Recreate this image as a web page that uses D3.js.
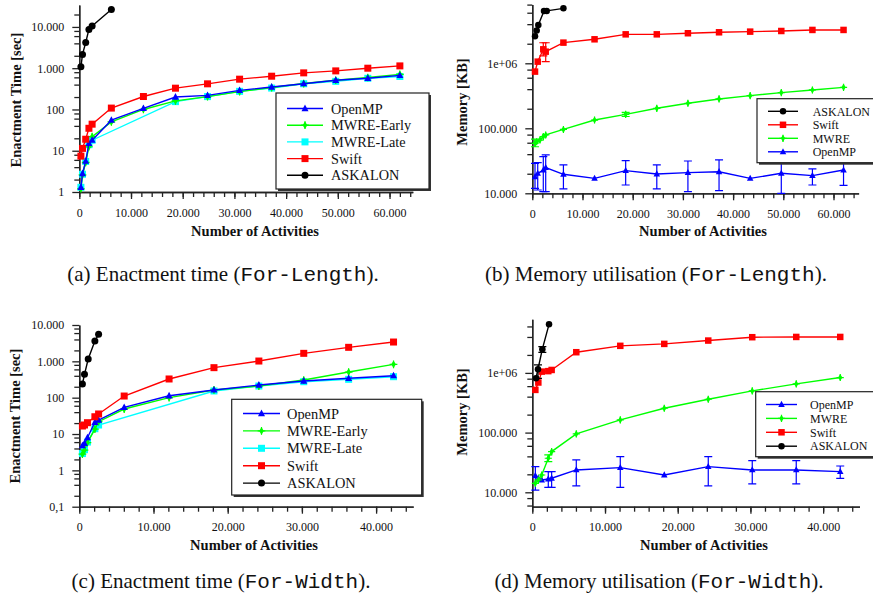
<!DOCTYPE html>
<meta charset="utf-8">
<html>
<head>
<title>Enactment time and memory</title>
<script src="https://d3js.org/d3.v7.min.js"></script>
<style>
  body { margin: 0; background: #fff; }
  svg text { font-family: "Liberation Serif", "Times New Roman", serif; fill: #111; }
  .mono { font-family: "Liberation Mono", "Courier New", monospace; }
</style>
</head>
<body>
<svg id="chart" width="873" height="605"></svg>
<script>
// ---- data ----
// (a) enactment time, For-Length
const xLen = [310, 620, 1240, 1860, 2480, 6200, 12400, 18600, 24800, 31000, 37200, 43400, 49600, 55800, 62000];
const timeLenOpenMP = [1.3, 2.8, 5.6, 15, 18, 55, 106, 200, 220, 290, 350, 420, 510, 570, 670];
const timeLenEarly = [1.2, 2.6, 5.2, 12.5, 22, 50, 100, 162, 205, 270, 340, 425, 510, 595, 710];
const xLenLate = [310, 620, 1240, 1860, 2480, 18600, 24800, 31000, 37200, 43400, 49600, 55800, 62000];
const timeLenLate = [1.3, 2.7, 5.5, 14, 18, 155, 205, 275, 330, 420, 480, 570, 630];
const timeLenSwift = [7.4, 11.4, 19, 35, 44, 108, 206, 328, 418, 542, 640, 771, 861, 1000, 1137];
const xLenAskalon = [310, 620, 1240, 1860, 2480, 6200];
const timeLenAskalon = [1080, 2160, 4200, 8700, 10600, 26500];

// (b) memory, For-Length
const xMemLen = [540, 1080, 2190, 2670, 6200, 12400, 18600, 24800, 31000, 37200, 43400, 49600, 55800, 62000];
const memLenOpenMP = [18000, 20300, 22800, 24800, 19600, 17000, 22300, 19800, 20800, 21500, 17000, 20300, 18700, 22800];
const memLenOpenMPLo = [11900, 11250, 10600, 10600, 11660, null, 13430, 11660, 10600, 11000, null, 10000, 13430, 13280];
const memLenOpenMPHi = [28900, 29700, 36600, 38900, 27300, null, 31800, 27300, 31400, 32600, null, 30700, 23700, 31800];
const memLenSwift = [745000, 1060000, 1640000, 1510000, 2080000, 2340000, 2790000, 2790000, 2900000, 3000000, 3070000, 3140000, 3260000, 3260000];
const memLenSwiftLo = [null, null, 1300000, 1060000, null, null, null, null, null, null, null, null, null, null];
const memLenSwiftHi = [null, null, 2070000, 2070000, null, null, null, null, null, null, null, null, null, null];
const xMemLenMwre = [540, 870, 1530, 2190, 2670, 6200, 12400, 18600, 24800, 31000, 37200, 43400, 49600, 55800, 62000];
const memLenMwre = [58800, 62000, 66000, 74500, 79000, 96000, 134000, 164000, 203000, 243000, 283000, 318000, 354000, 389000, 427000];
const memLenMwreLo = [52000, null, null, null, null, null, null, 152000, null, null, null, null, null, null, null];
const memLenMwreHi = [68000, null, null, null, null, null, null, 176000, null, null, null, null, null, null, null];
const xMemLenAskalon = [540, 880, 1200, 2330, 2870, 6200];
const memLenAskalon = [2600000, 3200000, 3900000, 6400000, 6400000, 7000000];

// (c) enactment time, For-Width
const xWid = [420, 700, 1100, 2100, 2600, 6050, 12100, 18150, 24200, 30250, 36300, 42350];
const timeWidOpenMP = [4.8, 5.5, 7.9, 21, 24, 54, 113, 163, 223, 287, 341, 403];
const timeWidEarly = [2.8, 3.6, 5.8, 13.7, 21.8, 48.7, 100, 163, 209, 306, 508, 827];
const xWidLate = [420, 700, 1100, 2100, 2600, 18150, 24200, 30250, 36300, 42350];
const timeWidLate = [2.9, 3.7, 6, 14, 17.7, 153, 209, 275, 320, 378];
const timeWidSwift = [16.6, 17.7, 20.5, 29.9, 35.6, 111, 327, 670, 1020, 1660, 2430, 3400];
const xWidAskalon = [420, 700, 1200, 2100, 2600];
const timeWidAskalon = [238, 438, 1160, 3630, 5540];

// (d) memory, For-Width
const xMemWid = [420, 830, 1300, 2200, 2660, 6050, 12100, 18150, 24200, 30250, 36300, 42350];
const memWidOpenMP = [19000, 17200, 16100, 16700, 17200, 23700, 25900, 19500, 26900, 23700, 23700, 22200];
const memWidOpenMPLo = [10900, null, null, 12130, 12130, 12770, 12130, null, 12770, 13800, 13800, 17160];
const memWidOpenMPHi = [26900, null, null, 22200, 22200, 34800, 39600, null, 39600, 33900, 33900, 27600];
const memWidMwre = [14150, 16100, 19500, 37200, 48100, 95100, 163000, 256000, 362000, 499000, 654000, 836000];
const memWidMwreLo = [null, null, null, 32600, null, null, null, null, null, null, null, null];
const memWidMwreHi = [null, null, null, 42300, null, null, null, null, null, null, null, null];
const memWidSwift = [519000, 690000, 1050000, 1070000, 1120000, 2220000, 2840000, 3060000, 3480000, 3960000, 4000000, 4000000];
const xMemWidAskalon = [510, 780, 1380, 2300];
const memWidAskalon = [815000, 1150000, 2500000, 6500000];
const memWidAskalonLo = [null, 810000, 2200000, null];
const memWidAskalonHi = [null, 1360000, 2760000, null];

// ticks
const xTicksLen = [0, 10000, 20000, 30000, 40000, 50000, 60000];
const xLabelsLen = ["0", "10.000", "20.000", "30.000", "40.000", "50.000", "60.000"];
const xTicksWid = [0, 10000, 20000, 30000, 40000];
const xLabelsWid = ["0", "10.000", "20.000", "30.000", "40.000"];
const yTicksTimeLen = [1, 10, 100, 1000, 10000];
const yLabelsTimeLen = ["1", "10", "100", "1.000", "10.000"];
const yTicksTimeWid = [0.1, 1, 10, 100, 1000, 10000];
const yLabelsTimeWid = ["0,1", "1", "10", "100", "1.000", "10.000"];
const yTicksMem = [10000, 100000, 1000000];
const yLabelsMem = ["10.000", "100.000", "1e+06"];

const colors = { OpenMP: "#0000ff", MWRE: "#00ff00", "MWRE-Early": "#00ff00", "MWRE-Late": "#00ffff", Swift: "#ff0000", ASKALON: "#000000" };
const shapes = { OpenMP: "triangle", MWRE: "diamond", "MWRE-Early": "diamond", "MWRE-Late": "square", Swift: "square", ASKALON: "circle" };

const svg = d3.select("#chart");

function marker(g, shape, cx, cy, color, s) {
  if (shape === "square") {
    g.append("rect").attr("x", cx - s / 2).attr("y", cy - s / 2).attr("width", s).attr("height", s).attr("fill", color);
  } else if (shape === "circle") {
    g.append("circle").attr("cx", cx).attr("cy", cy).attr("r", s / 2).attr("fill", color);
  } else if (shape === "triangle") {
    const h = s * 0.9;
    g.append("path").attr("d", `M${cx},${cy - h / 1.6}L${cx + s / 2},${cy + h / 2.4}L${cx - s / 2},${cy + h / 2.4}Z`).attr("fill", color);
  } else {
    const r = s * 0.55;
    g.append("path").attr("d", `M${cx},${cy - r}L${cx + r * 0.6},${cy}L${cx},${cy + r}L${cx - r * 0.6},${cy}Z`).attr("fill", color);
    g.append("path").attr("d", `M${cx - r},${cy}H${cx + r}M${cx},${cy - r}V${cy + r}`).attr("stroke", color).attr("stroke-width", 1.2);
  }
}

function drawPanel(p) {
  const g = svg.append("g");
  const x = d3.scaleLinear().domain(p.xDomain).range(p.xRange);
  const y = d3.scaleLog().domain(p.yDomain).range(p.yRange);
  const y0 = p.yRange[0], x0 = p.xRange[0];

  // x axis
  const xMinor = d3.range(0, p.xDomain[1] + 1, 2000);
  g.append("g").attr("transform", `translate(0,${y0})`)
    .call(d3.axisBottom(x).tickValues(xMinor).tickSize(5).tickSizeOuter(0).tickFormat(""));
  const xa = g.append("g").attr("transform", `translate(0,${y0})`)
    .call(d3.axisBottom(x).tickValues(p.xTicks).tickSize(7).tickSizeOuter(0).tickPadding(9)
      .tickFormat((d, i) => p.xLabels[i]));
  xa.selectAll("text").attr("font-family", "Liberation Serif").attr("font-size", 12);

  // y axis (log, minor ticks at 2,4,6,8)
  const yMinor = [];
  const lo = Math.floor(Math.log10(p.yDomain[0])), hi = Math.ceil(Math.log10(p.yDomain[1]));
  for (let e = lo; e <= hi; e++) [2, 4, 6, 8].forEach(m => {
    const v = m * Math.pow(10, e);
    if (v >= p.yDomain[0] && v <= p.yDomain[1]) yMinor.push(v);
  });
  g.append("g").attr("transform", `translate(${x0},0)`)
    .call(d3.axisLeft(y).tickValues(yMinor).tickSize(5).tickSizeOuter(0).tickFormat(""));
  const ya = g.append("g").attr("transform", `translate(${x0},0)`)
    .call(d3.axisLeft(y).tickValues(p.yTicks).tickSize(7).tickSizeOuter(0).tickPadding(8)
      .tickFormat((d, i) => p.yLabels[i]));
  ya.selectAll("text").attr("font-family", "Liberation Serif").attr("font-size", 12);
  g.selectAll(".domain, .tick line").attr("stroke", "#222").attr("stroke-width", 1.3);

  // axis titles
  g.append("text").attr("x", p.xTitle[0]).attr("y", p.xTitle[1]).attr("text-anchor", "middle")
    .attr("font-weight", "bold").attr("font-size", 14.5).text("Number of Activities");
  g.append("text").attr("transform", `translate(${p.yTitle[0]},${p.yTitle[1]}) rotate(-90)`)
    .attr("text-anchor", "middle").attr("font-weight", "bold").attr("font-size", 14.5).text(p.yTitleText);

  // series
  const plot = g.append("g");
  p.drawOrder.forEach(s => {
    const pts = s.x.map((v, i) => ({ x: v, y: s.y[i], lo: s.lo ? s.lo[i] : null, hi: s.hi ? s.hi[i] : null }));
    const c = colors[s.name];
    plot.append("path").datum(pts)
      .attr("d", d3.line().x(d => x(d.x)).y(d => y(d.y)))
      .attr("fill", "none").attr("stroke", c).attr("stroke-width", 1.4);
    pts.forEach(d => {
      if (d.lo != null) {
        const px = x(d.x), yl = Math.min(y(d.lo), y0 + 1), yh = y(d.hi);
        plot.append("path").attr("d", `M${px},${yl}V${yh}M${px - 4},${yl}H${px + 4}M${px - 4},${yh}H${px + 4}`)
          .attr("stroke", c).attr("stroke-width", 1.2).attr("fill", "none");
      }
    });
    pts.forEach(d => marker(plot, shapes[s.name], x(d.x), y(d.y), c, p.markSize));
  });

  // legend
  const L = p.legend;
  const lg = g.append("g");
  lg.append("rect").attr("x", L.x + 2).attr("y", L.y + 2).attr("width", L.w).attr("height", L.h).attr("fill", "#333");
  lg.append("rect").attr("x", L.x).attr("y", L.y).attr("width", L.w).attr("height", L.h)
    .attr("fill", "#fff").attr("stroke", "#222").attr("stroke-width", 1.2);
  p.legendOrder.forEach((name, i) => {
    const yy = L.y0 + i * L.dy, c = colors[name];
    lg.append("line").attr("x1", L.l1).attr("x2", L.l2).attr("y1", yy).attr("y2", yy)
      .attr("stroke", c).attr("stroke-width", 1.4);
    marker(lg, shapes[name], (L.l1 + L.l2) / 2, yy, c, p.markSize);
    lg.append("text").attr("x", L.tx).attr("y", yy).attr("dy", "0.35em").attr("font-size", L.fs).text(name);
  });

  // caption
  const cap = svg.append("text").attr("x", p.caption.x).attr("y", p.caption.y)
    .attr("text-anchor", "middle").attr("font-size", 21);
  cap.append("tspan").text(p.caption.pre);
  cap.append("tspan").attr("class", "mono").text(p.caption.mono);
  cap.append("tspan").text(").");
}

drawPanel({
  xDomain: [0, 64500], xRange: [79.3, 412.8], yDomain: [1, 34000], yRange: [192, 5],
  xTicks: xTicksLen, xLabels: xLabelsLen, yTicks: yTicksTimeLen, yLabels: yLabelsTimeLen,
  xTitle: [255, 236], yTitle: [21, 100], yTitleText: "Enactment Time [sec]", markSize: 7,
  drawOrder: [
    { name: "MWRE-Late", x: xLenLate, y: timeLenLate },
    { name: "MWRE-Early", x: xLen, y: timeLenEarly },
    { name: "OpenMP", x: xLen, y: timeLenOpenMP },
    { name: "Swift", x: xLen, y: timeLenSwift },
    { name: "ASKALON", x: xLenAskalon, y: timeLenAskalon }
  ],
  legendOrder: ["OpenMP", "MWRE-Early", "MWRE-Late", "Swift", "ASKALON"],
  legend: { x: 276, y: 93, w: 153, h: 96, y0: 108.5, dy: 16.7, l1: 287, l2: 323, tx: 331, fs: 14.3 },
  caption: { x: 223, y: 281, pre: "(a) Enactment time (", mono: "For-Length" }
});

drawPanel({
  xDomain: [0, 65000], xRange: [532.3, 858.6], yDomain: [10000, 8000000], yRange: [193.3, 4.6],
  xTicks: xTicksLen, xLabels: xLabelsLen, yTicks: yTicksMem, yLabels: yLabelsMem,
  xTitle: [703, 236], yTitle: [467, 102], yTitleText: "Memory [KB]", markSize: 6.5,
  drawOrder: [
    { name: "OpenMP", x: xMemLen, y: memLenOpenMP, lo: memLenOpenMPLo, hi: memLenOpenMPHi },
    { name: "MWRE", x: xMemLenMwre, y: memLenMwre, lo: memLenMwreLo, hi: memLenMwreHi },
    { name: "Swift", x: xMemLen, y: memLenSwift, lo: memLenSwiftLo, hi: memLenSwiftHi },
    { name: "ASKALON", x: xMemLenAskalon, y: memLenAskalon }
  ],
  legendOrder: ["ASKALON", "Swift", "MWRE", "OpenMP"],
  legend: { x: 757, y: 98.7, w: 125, h: 64, y0: 111.3, dy: 13.5, l1: 768, l2: 798, tx: 812.7, fs: 12 },
  caption: { x: 656, y: 281, pre: "(b) Memory utilisation (", mono: "For-Length" }
});

drawPanel({
  xDomain: [0, 45000], xRange: [79.3, 413.2], yDomain: [0.1, 10000], yRange: [506.7, 325],
  xTicks: xTicksWid, xLabels: xLabelsWid, yTicks: yTicksTimeWid, yLabels: yLabelsTimeWid,
  xTitle: [254, 550], yTitle: [20, 416], yTitleText: "Enactment Time [sec]", markSize: 7,
  drawOrder: [
    { name: "MWRE-Late", x: xWidLate, y: timeWidLate },
    { name: "MWRE-Early", x: xWid, y: timeWidEarly },
    { name: "OpenMP", x: xWid, y: timeWidOpenMP },
    { name: "Swift", x: xWid, y: timeWidSwift },
    { name: "ASKALON", x: xWidAskalon, y: timeWidAskalon }
  ],
  legendOrder: ["OpenMP", "MWRE-Early", "MWRE-Late", "Swift", "ASKALON"],
  legend: { x: 231.7, y: 399.3, w: 190, h: 95.7, y0: 413.5, dy: 17.4, l1: 243, l2: 280, tx: 287, fs: 14.4 },
  caption: { x: 221, y: 588, pre: "(c) Enactment time (", mono: "For-Width" }
});

drawPanel({
  xDomain: [0, 45000], xRange: [532.3, 859.5], yDomain: [5740, 7900000], yRange: [506.7, 319.3],
  xTicks: xTicksWid, xLabels: xLabelsWid, yTicks: yTicksMem, yLabels: yLabelsMem,
  xTitle: [704, 550], yTitle: [467, 412], yTitleText: "Memory [KB]", markSize: 6.5,
  drawOrder: [
    { name: "OpenMP", x: xMemWid, y: memWidOpenMP, lo: memWidOpenMPLo, hi: memWidOpenMPHi },
    { name: "MWRE", x: xMemWid, y: memWidMwre, lo: memWidMwreLo, hi: memWidMwreHi },
    { name: "Swift", x: xMemWid, y: memWidSwift },
    { name: "ASKALON", x: xMemWidAskalon, y: memWidAskalon, lo: memWidAskalonLo, hi: memWidAskalonHi }
  ],
  legendOrder: ["OpenMP", "MWRE", "Swift", "ASKALON"],
  legend: { x: 755.7, y: 391.7, w: 125, h: 65, y0: 404.5, dy: 13.9, l1: 766, l2: 797, tx: 810, fs: 12 },
  caption: { x: 659, y: 588, pre: "(d) Memory utilisation (", mono: "For-Width" }
});
</script>
</body>
</html>
